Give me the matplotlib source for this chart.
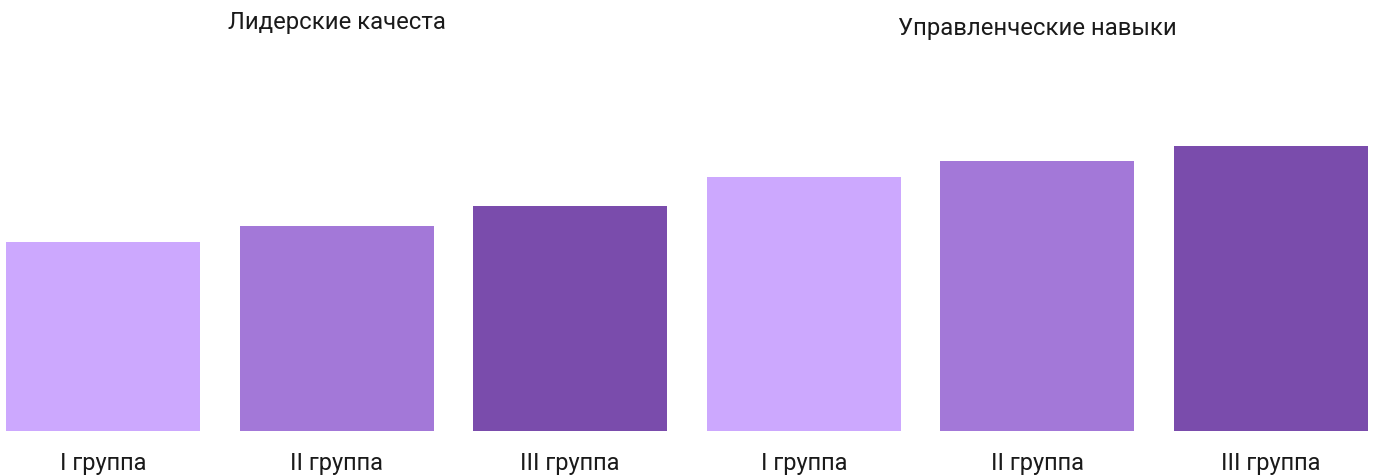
import matplotlib.pyplot as plt
import matplotlib.transforms as mtransforms

plt.rcParams['font.family'] = ['Roboto', 'DejaVu Sans']

categories = ['I группа', 'II группа', 'III группа', 'I группа', 'II группа', 'III группа']
values = [66.3, 71.9, 78.9, 88.8, 94.4, 100.0]
colors = ['#CCA8FE', '#A378D8', '#7A4CAC', '#CCA8FE', '#A378D8', '#7A4CAC']
section_titles = ['Лидерские качеста', 'Управленческие навыки']
section_pos = [1, 4]

W, H = 1375, 477
fig = plt.figure(figsize=(W / 100, H / 100), dpi=100)
ax = fig.add_axes([0, 45.5 / H, 1, 431.5 / H])

x = list(range(len(values)))
ax.bar(x, values, width=194 / 233.5, color=colors)

ax.set_xlim(-103 / 233.5, 5 + (W - 1271) / 233.5)
ax.set_ylim(0, 431.5 / 2.85)
ax.set_xticks(x)
ax.set_xticklabels(categories, fontsize=17, color='#1a1a1a')
ax.tick_params(axis='x', length=0, pad=15)
ax.set_yticks([])
for s in ax.spines.values():
    s.set_visible(False)

trans = mtransforms.blended_transform_factory(ax.transData, fig.transFigure)
title_y = [1 - 22 / H, 1 - 28 / H]
for t, px, py in zip(section_titles, section_pos, title_y):
    ax.text(px, py, t, transform=trans, ha='center', va='center',
            fontsize=17.2, color='#1a1a1a')

fig.savefig('out.png', dpi=100)
